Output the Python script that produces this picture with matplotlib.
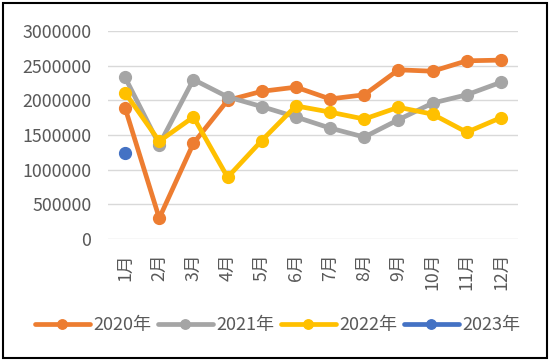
import matplotlib.pyplot as plt
import matplotlib.patches as patches

plt.rcParams['font.family'] = ['Noto Sans CJK SC', 'DejaVu Sans']

# 月份与各年数据
months = ['1月', '2月', '3月', '4月', '5月', '6月', '7月', '8月', '9月', '10月', '11月', '12月']
y2020 = [1890000, 300000, 1380000, 2000000, 2130000, 2190000, 2020000, 2080000, 2440000, 2420000, 2570000, 2580000]
y2021 = [2330000, 1360000, 2300000, 2050000, 1910000, 1760000, 1600000, 1470000, 1720000, 1960000, 2080000, 2260000]
y2022 = [2110000, 1410000, 1760000, 890000, 1420000, 1920000, 1830000, 1730000, 1900000, 1800000, 1540000, 1750000]
y2023 = [1240000]

yticks = [0, 500000, 1000000, 1500000, 2000000, 2500000, 3000000]

series = [('2020年', y2020, '#ED7D31'),
          ('2021年', y2021, '#A5A5A5'),
          ('2022年', y2022, '#FFC000'),
          ('2023年', y2023, '#4472C4')]

fig = plt.figure(figsize=(5.5, 3.61), dpi=100)
ax = fig.add_axes([108 / 550, 1 - 239 / 361, 410 / 550, 208 / 361])

x = list(range(len(months)))
for name, vals, col in series:
    ax.plot(x[:len(vals)], vals, color=col, lw=3.4, marker='o', ms=8.5,
            label=name, solid_capstyle='round')

ax.set_xlim(-0.5, 11.5)
ax.set_ylim(0, 3000000)
ax.set_yticks(yticks)
ax.set_yticklabels([str(v) for v in yticks])
ax.set_xticks(x)
ax.set_xticklabels(months, rotation=90, va='top')
ax.tick_params(length=0, labelsize=12.8, labelcolor='#595959')
ax.tick_params(axis='y', pad=12)
ax.tick_params(axis='x', pad=10)
ax.yaxis.grid(True, color='#D9D9D9', lw=1)
ax.set_axisbelow(True)
for s in ax.spines.values():
    s.set_visible(False)

leg = fig.legend(loc='center', bbox_to_anchor=(0.505, 1 - 325 / 361), ncol=4,
                 frameon=False, handlelength=3.0, columnspacing=0.4,
                 handletextpad=0.2, fontsize=13, markerscale=0.8)
for t in leg.get_texts():
    t.set_color('#595959')

fig.patches.append(patches.Rectangle((3 / 550, 3 / 361), 544 / 550, 355 / 361,
                                     transform=fig.transFigure, fill=False,
                                     edgecolor='black', lw=1.5))

fig.savefig('out.png', dpi=100)
